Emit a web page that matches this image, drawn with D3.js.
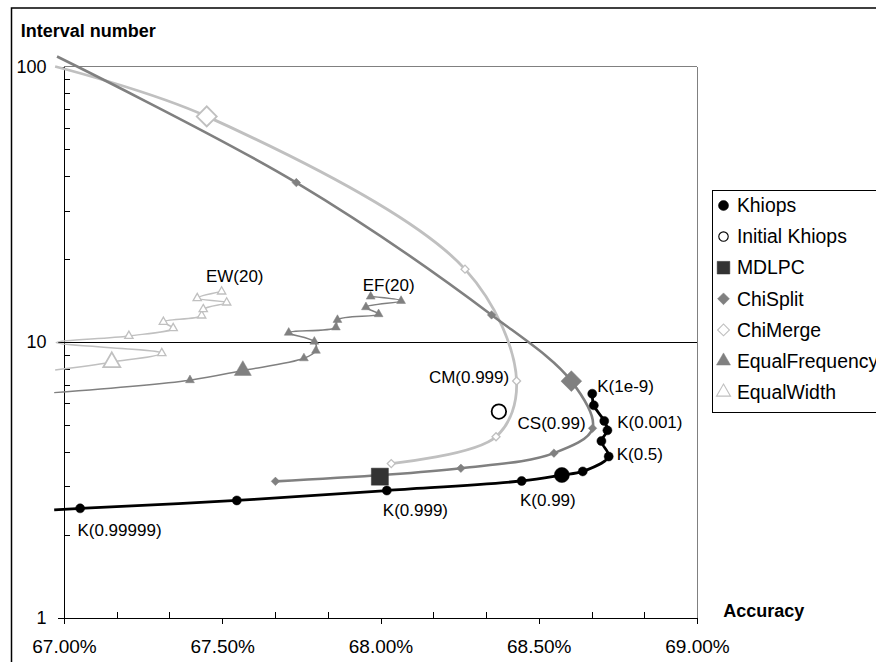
<!DOCTYPE html>
<html>
<head>
<meta charset="utf-8">
<script src="https://cdn.jsdelivr.net/npm/d3@7"></script>
<style>
    body { margin: 0; background: #fff; }
    svg { display: block; font-family: "Liberation Sans", Arial, sans-serif; }
    .crisp line, .crisp path.domain, line.crisp { shape-rendering: crispEdges; }
</style>
</head>
<body>
<svg id="chart" width="876" height="662"></svg>
<script>
// ---- data (accuracy in %, interval number) ----
const khiopsAcc = [66.969, 67.051, 67.546, 68.020, 68.446, 68.573, 68.639, 68.721, 68.698, 68.717, 68.707, 68.674, 68.669];
const khiopsInt = [2.46, 2.49, 2.66, 2.89, 3.13, 3.29, 3.39, 3.84, 4.37, 4.78, 5.17, 5.89, 6.49];

const chiSplitAcc = [66.978, 67.734, 68.351, 68.603, 68.670, 68.548, 68.254, 67.668];
const chiSplitInt = [108.7, 37.9, 12.54, 7.21, 4.86, 3.95, 3.48, 3.12];

const chiMergeAcc = [66.972, 67.451, 68.267, 68.430, 68.365, 68.034];
const chiMergeInt = [100, 65.9, 18.38, 7.22, 4.53, 3.62];

const efAcc = [66.969, 67.398, 67.565, 67.758, 67.796, 67.791, 67.710, 67.859, 67.864, 67.994, 67.954, 68.065, 67.969];
const efInt = [6.55, 7.27, 7.88, 8.73, 9.30, 10.03, 10.81, 11.30, 12.03, 12.62, 13.38, 14.10, 14.62];

const ewAcc = [66.972, 67.151, 67.309, 66.975, 67.205, 67.345, 67.314, 67.435, 67.440, 67.514, 67.421, 67.498];
const ewInt = [7.92, 8.45, 9.11, 9.95, 10.52, 11.22, 11.83, 12.47, 13.15, 13.90, 14.42, 15.24];

// default settings (big markers)
const defaultNames = ["Khiops", "Initial Khiops", "MDLPC", "ChiSplit", "ChiMerge", "EqualFrequency", "EqualWidth"];
const defaultAcc = [68.573, 68.374, 67.998, 68.603, 67.451, 67.565, 67.151];
const defaultInt = [3.29, 5.59, 3.245, 7.21, 65.9, 7.88, 8.45];

const annotations = [
    {text: "K(1e-9)", acc: 68.669, val: 6.49},
    {text: "K(0.001)", acc: 68.707, val: 5.17},
    {text: "K(0.5)", acc: 68.721, val: 3.84},
    {text: "K(0.99)", acc: 68.446, val: 3.13},
    {text: "K(0.999)", acc: 68.020, val: 2.89},
    {text: "K(0.99999)", acc: 67.051, val: 2.49},
    {text: "CS(0.99)", acc: 68.670, val: 4.86},
    {text: "CM(0.999)", acc: 68.430, val: 7.22},
    {text: "EW(20)", acc: 67.498, val: 15.24},
    {text: "EF(20)", acc: 67.969, val: 14.62},
];

const xTicks = [67, 67.5, 68, 68.5, 69];
const xMinorTicks = [67.1667, 67.3333, 67.6667, 67.8333, 68.1667, 68.3333, 68.6667, 68.8333];
const yTicks = [1, 10, 100];
const yMinorTicks = [2, 3, 4, 5, 6, 7, 8, 9, 20, 30, 40, 50, 60, 70, 80, 90];

// ---- chart ----
let svg = d3.select("#chart");
let plot = {left: 64, right: 697, top: 66.5, bottom: 617.5};

let x = d3.scaleLinear().domain([67, 69]).range([plot.left, plot.right]);
let y = d3.scaleLog().domain([1, 100]).range([plot.bottom, plot.top]);

// outer chart border
svg.append("rect")
    .attr("x", 11.5).attr("y", 8)
    .attr("width", 900).attr("height", 700)
    .attr("fill", "none").attr("stroke", "#000").attr("stroke-width", 1.5);

// plot frame (top + right, gray) and gridline at 10
let frame = svg.append("g").attr("class", "crisp");
frame.append("line")
    .attr("x1", x(67)).attr("x2", x(69)).attr("y1", y(100)).attr("y2", y(100))
    .attr("stroke", "#808080").attr("stroke-width", 1);
frame.append("line")
    .attr("x1", x(69)).attr("x2", x(69)).attr("y1", y(100)).attr("y2", y(1))
    .attr("stroke", "#808080").attr("stroke-width", 1);
frame.append("line")
    .attr("x1", x(67)).attr("x2", x(69)).attr("y1", y(10)).attr("y2", y(10))
    .attr("stroke", "#000").attr("stroke-width", 1);

// x axis
svg.append("g")
    .attr("class", "crisp")
    .attr("transform", `translate(0,${plot.bottom})`)
    .call(d3.axisBottom(x).tickValues(xTicks).tickSizeInner(6).tickSizeOuter(0).tickPadding(16)
        .tickFormat(d => d.toFixed(2) + "%"))
    .call(g => g.selectAll("text").attr("font-size", "19px").attr("fill", "#000")
        .attr("font-family", "Liberation Sans, Arial, sans-serif"));
svg.append("g")
    .attr("class", "crisp")
    .attr("transform", `translate(0,${plot.bottom})`)
    .call(d3.axisBottom(x).tickValues(xMinorTicks).tickSize(-6).tickFormat(""))
    .call(g => g.select(".domain").remove());

// y axis
svg.append("g")
    .attr("class", "crisp")
    .attr("transform", `translate(${plot.left},0)`)
    .call(d3.axisLeft(y).tickValues(yTicks).tickSizeInner(6).tickSizeOuter(0).tickPadding(11.5)
        .tickFormat(d3.format("d")))
    .call(g => g.selectAll("text").attr("font-size", "18px").attr("fill", "#000")
        .attr("font-family", "Liberation Sans, Arial, sans-serif"));
svg.append("g")
    .attr("class", "crisp")
    .attr("transform", `translate(${plot.left},0)`)
    .call(d3.axisLeft(y).tickValues(yMinorTicks).tickSize(-6).tickFormat(""))
    .call(g => g.select(".domain").remove());

// axis titles
svg.append("text")
    .attr("x", 20.7).attr("y", 37.3)
    .attr("font-size", "18px").attr("font-weight", "bold")
    .text("Interval number");
svg.append("text")
    .attr("x", 723.3).attr("y", 616.7)
    .attr("font-size", "18px").attr("font-weight", "bold")
    .text("Accuracy");

// series
function zipPts(accs, ints) {
    return accs.map((a, i) => ({acc: a, val: ints[i]}));
}

let series = [
    {name: "EqualWidth", pts: zipPts(ewAcc, ewInt), color: "#c0c0c0", width: 1.5, shape: "triangle", open: true, size: 30},
    {name: "EqualFrequency", pts: zipPts(efAcc, efInt), color: "#808080", width: 1.5, shape: "triangle", open: false, size: 34},
    {name: "ChiMerge", pts: zipPts(chiMergeAcc, chiMergeInt), color: "#c0c0c0", width: 2.8, shape: "diamond", open: true, size: 32},
    {name: "ChiSplit", pts: zipPts(chiSplitAcc, chiSplitInt), color: "#808080", width: 2.6, shape: "diamond", open: false, size: 36},
    {name: "Khiops", pts: zipPts(khiopsAcc, khiopsInt), color: "#000", width: 2.8, shape: "circle", open: false, size: 64},
];

let line = d3.line()
    .x(d => x(d.acc))
    .y(d => y(d.val))
    .curve(d3.curveCatmullRom.alpha(0.5));

function symbolPath(shape, size) {
    if (shape === "circle") return d3.symbol(d3.symbolCircle, size)();
    if (shape === "square" || shape === "diamond") return d3.symbol(d3.symbolSquare, size)();
    return d3.symbol(d3.symbolTriangle, size)();
}

function drawMarker(g, shape, size, color, open, cx, cy, sw) {
    g.append("path")
        .attr("d", symbolPath(shape, size))
        .attr("transform", `translate(${cx},${cy})` + (shape === "diamond" ? " rotate(45)" : ""))
        .attr("fill", open ? "#fff" : color)
        .attr("stroke", color)
        .attr("stroke-width", open ? (sw || 1.3) : 0.5);
}

let lines = svg.append("g");
series.forEach(s => {
    lines.append("path")
        .datum(s.pts)
        .attr("fill", "none")
        .attr("stroke", s.color)
        .attr("stroke-width", s.width)
        .attr("stroke-linejoin", "round")
        .attr("d", line);
});

// small markers (only inside the axis range)
let marks = svg.append("g");
series.forEach(s => {
    s.pts.filter(d => d.acc >= 67).forEach(d => {
        drawMarker(marks, s.shape, s.size, s.color, s.open, x(d.acc), y(d.val));
    });
});

// big default markers
let bigStyle = {
    "Khiops": {shape: "circle", size: 180, color: "#000", open: false},
    "Initial Khiops": {shape: "circle", size: 165, color: "#000", open: true},
    "MDLPC": {shape: "square", size: 290, color: "#333", open: false},
    "ChiSplit": {shape: "diamond", size: 215, color: "#808080", open: false},
    "ChiMerge": {shape: "diamond", size: 200, color: "#c0c0c0", open: true},
    "EqualFrequency": {shape: "triangle", size: 125, color: "#808080", open: false},
    "EqualWidth": {shape: "triangle", size: 125, color: "#c0c0c0", open: true},
};
let bigs = svg.append("g");
defaultNames.forEach((n, i) => {
    let st = bigStyle[n];
    drawMarker(bigs, st.shape, st.size, st.color, st.open, x(defaultAcc[i]), y(defaultInt[i]), 1.8);
});

// annotations
let labelOffsets = {
    "K(1e-9)": [5, -2, "start"],
    "K(0.001)": [13, 7.3, "start"],
    "K(0.5)": [8, 3.3, "start"],
    "K(0.99)": [-1.7, 25, "start"],
    "K(0.999)": [-4, 25, "start"],
    "K(0.99999)": [-2.7, 27.4, "start"],
    "CS(0.99)": [-7, 1, "end"],
    "CM(0.999)": [-7.4, 2.3, "end"],
    "EW(20)": [-15.7, -9.4, "start"],
    "EF(20)": [-8, -6, "start"],
};
svg.append("g").selectAll("text")
    .data(annotations)
    .join("text")
    .attr("x", d => x(d.acc) + labelOffsets[d.text][0])
    .attr("y", d => y(d.val) + labelOffsets[d.text][1])
    .attr("text-anchor", d => labelOffsets[d.text][2])
    .attr("font-size", "17px")
    .attr("fill", "#000")
    .text(d => d.text);

// legend (runs past the right edge, as in the original)
let legend = svg.append("g").attr("transform", "translate(712.5,190.5)");
legend.append("rect")
    .attr("width", 200).attr("height", 222)
    .attr("fill", "#fff").attr("stroke", "#000").attr("stroke-width", 1);
let legendStyle = {
    "Khiops": {shape: "circle", size: 80},
    "Initial Khiops": {shape: "circle", size: 70},
    "MDLPC": {shape: "square", size: 160},
    "ChiSplit": {shape: "diamond", size: 70},
    "ChiMerge": {shape: "diamond", size: 70},
    "EqualFrequency": {shape: "triangle", size: 85},
    "EqualWidth": {shape: "triangle", size: 85},
};
defaultNames.forEach((n, i) => {
    let cy = 15 + i * 31.1;
    let st = legendStyle[n];
    drawMarker(legend, st.shape, st.size, bigStyle[n].color, bigStyle[n].open, 11, cy, 1.1);
    legend.append("text")
        .attr("x", 24.4).attr("y", cy + 6.7)
        .attr("font-size", "19.4px")
        .text(n);
});
</script>
</body>
</html>
